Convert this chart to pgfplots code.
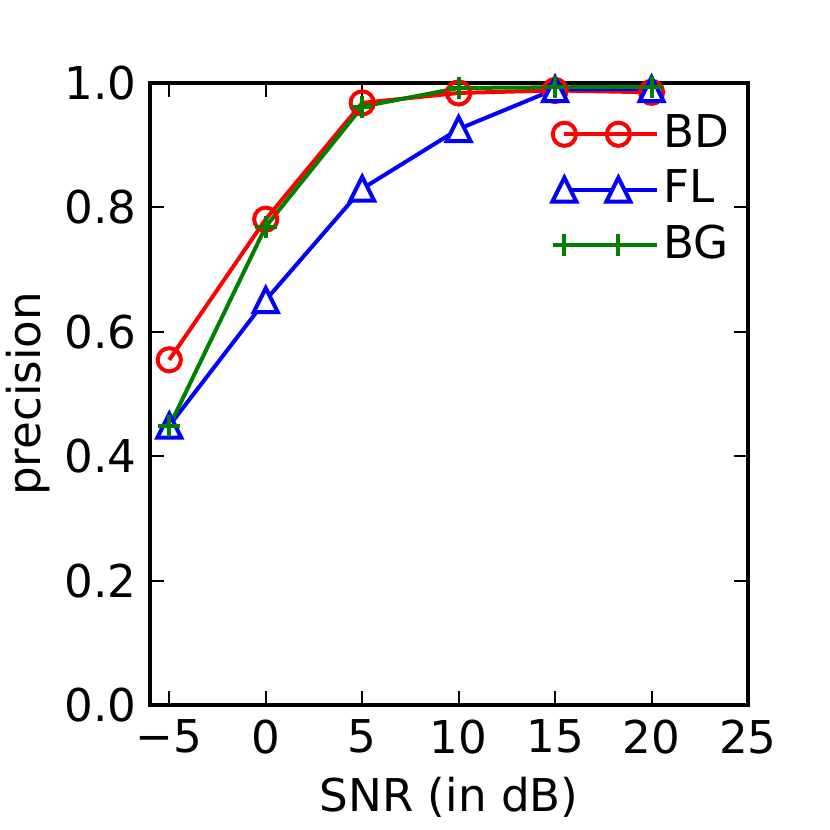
\documentclass[border=0pt]{standalone}
\usepackage{pgfplots}
\pgfplotsset{compat=1.18}
\usepackage{fontspec}
\setmainfont{DejaVu Sans}
\definecolor{mplgreen}{rgb}{0,0.5,0}
\pgfdeclareplotmark{mpltri}{%
  \pgfpathmoveto{\pgfqpoint{0pt}{\pgfplotmarksize}}%
  \pgfpathlineto{\pgfqpoint{-\pgfplotmarksize}{-\pgfplotmarksize}}%
  \pgfpathlineto{\pgfqpoint{\pgfplotmarksize}{-\pgfplotmarksize}}%
  \pgfpathclose
  \pgfusepathqfillstroke}
\newcommand{\ff}{\fontsize{22.6}{27}\selectfont}
\begin{document}
\ff
\begin{tikzpicture}
\useasboundingbox (0,0) rectangle (415pt,415pt);
\begin{axis}[
  at={(75pt,62.5pt)}, anchor=south west,
  scale only axis, width=299pt, height=311pt,
  xmin=-6, xmax=25, ymin=0, ymax=1,
  xtick={-5,0,5,10,15,20,25},
  xticklabels={−5,0,5,10,15,20,25},
  ytick={0,0.2,0.4,0.6,0.8,1.0},
  yticklabels={0.0,0.2,0.4,0.6,0.8,1.0},
  tick align=inside, major tick length=7pt,
  tick style={black, line width=1pt},
  axis line style={line width=1.6pt},
  xticklabel style={font=\ff, yshift=0.5pt},
  yticklabel style={font=\ff, xshift=1pt},
  xlabel={SNR (in dB)}, ylabel={precision},
  label style={font=\ff},
  xlabel style={at={(rel axis cs:0.5,0)}, anchor=center, yshift=-46pt},
  ylabel style={at={(rel axis cs:0,0.5)}, anchor=center, xshift=0pt, yshift=61pt},
  legend style={draw=none, fill=none, at={(rel axis cs:0,1)}, anchor=north west,
    xshift=198pt, yshift=-11.5pt, font=\ff,
    row sep=3.8pt},
  legend cell align=left,
  legend image code/.code={%
    \path (0pt,0pt) -- (46.5pt,0pt);
    \draw[mark repeat=2,mark phase=1,#1] plot coordinates {(0pt,0pt)(13.5pt,0pt)(27pt,0pt)};},
  every axis plot/.append style={line width=2pt},
  clip=false,
]
\addplot[red, mark=o, mark size=5.8pt, mark options={fill=white, line width=2pt}]
  coordinates {(-5,0.555) (0,0.781) (5,0.968) (10,0.984) (15,0.988) (20,0.985)};
\addlegendentry{BD}
\addplot[blue, mark=mpltri, mark size=6pt, mark options={fill=white, line width=2pt}]
  coordinates {(-5,0.449) (0,0.651) (5,0.830) (10,0.926) (15,0.990) (20,0.990)};
\addlegendentry{FL}
\addplot[mplgreen, mark=+, mark size=5.5pt, mark options={line width=2pt}]
  coordinates {(-5,0.448) (0,0.769) (5,0.962) (10,0.992) (15,0.993) (20,0.994)};
\addlegendentry{BG}
\end{axis}
\end{tikzpicture}
\end{document}
